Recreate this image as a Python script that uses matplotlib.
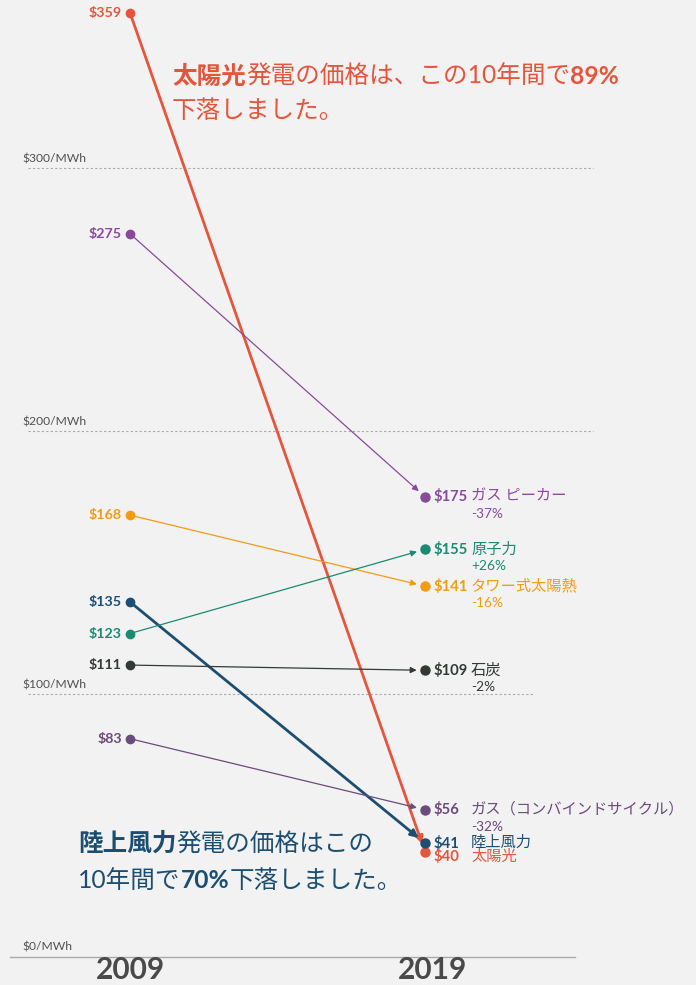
import matplotlib
matplotlib.use("Agg")
import matplotlib.pyplot as plt
from matplotlib import transforms

# ---------------- data ----------------
techs = ['太陽光', 'ガス ピーカー', 'タワー式太陽熱', '陸上風力', '原子力', '石炭', 'ガス（コンバインドサイクル）']
v2009 = [359, 275, 168, 135, 123, 111, 83]
v2019 = [40, 175, 141, 41, 155, 109, 56]
changes = ['', '-37%', '-16%', '', '+26%', '-2%', '-32%']
years = [2009, 2019]
grid_vals = [0, 100, 200, 300]
grid_labels = ['$0/MWh', '$100/MWh', '$200/MWh', '$300/MWh']

# ---------------- style ----------------
colors = ['#e5553b', '#8a4a9b', '#f29b13', '#1c4e72', '#1b8a72', '#333a35', '#6b4b7b']
lws = [2.0, 0.9, 0.9, 2.0, 0.9, 0.9, 0.9]
label_dy = [-5, 0, 0, 6, 0, 0, 0]   # pixel nudges at 2019 side
dot_dy = [0, 0, 0, 6, 0, 0, 0]
BG = '#f2f2f2'
W, H = 696, 985
LAT = ['Lato', 'Noto Sans CJK JP', 'DejaVu Sans']
plt.rcParams['font.family'] = LAT

fig = plt.figure(figsize=(W / 100, H / 100), dpi=100, facecolor=BG)
ax = fig.add_axes([0, 0, 1, 1])
ax.set_facecolor(BG)
ax.axis('off')
px_per_year = 29.5
ax.set_xlim(2009 - 130 / px_per_year, 2009 + (W - 130) / px_per_year)
ppu = 2.63
ax.set_ylim(-28 / ppu, (H - 28) / ppu)

# grid lines
ends = {0: None, 100: 533 / W, 200: 593 / W, 300: 593 / W}
for gv, gl in zip(grid_vals, grid_labels):
    if gv == 0:
        ax.axhline(gv, xmin=10 / W, xmax=575 / W, color='#aaaaaa', lw=1.0, zorder=1)
    else:
        ax.axhline(gv, xmin=28 / W, xmax=ends[gv], color='#aaaaaa', lw=0.8,
                   linestyle=(0, (2, 2)), zorder=1)
    ax.annotate(gl, xy=(2009, gv), xytext=(22 - 130, 4), textcoords='offset pixels',
                fontsize=8.7, color='#505050', ha='left', va='bottom')

# year labels
for yr in years:
    ax.annotate(str(yr), xy=(yr, 0), xycoords='data', xytext=(0 if yr == 2009 else 7, -22),
                textcoords='offset pixels', ha='center', va='baseline',
                fontsize=21.5, fontweight='bold', color='#4a4a4a')

for i, name in enumerate(techs):
    c = colors[i]
    off2 = transforms.offset_copy(ax.transData, fig=fig, x=0, y=dot_dy[i], units='dots')
    # arrow
    ax.annotate('', xy=(2019, v2019[i]), xycoords=off2, xytext=(2009, v2009[i]),
                textcoords='data',
                arrowprops=dict(arrowstyle='-|>', color=c, lw=lws[i], shrinkA=0,
                                shrinkB=6, mutation_scale=11 if lws[i] > 1 else 9),
                zorder=3)
    ax.plot([2009], [v2009[i]], 'o', color=c, ms=6, zorder=4)
    ax.plot([2019], [v2019[i]], 'o', color=c, ms=6.5, zorder=4, transform=off2)
    # 2009 label
    ax.annotate(f'${v2009[i]}', xy=(2009, v2009[i]), xytext=(-8, 0),
                textcoords='offset pixels', ha='right', va='center',
                fontsize=10.3, fontweight='bold', color=c)
    # 2019 labels
    dy = label_dy[i]
    ax.annotate(f'${v2019[i]}', xy=(2019, v2019[i]), xytext=(8, dy),
                textcoords='offset pixels', ha='left', va='center',
                fontsize=10.6, fontweight='bold', color=c)
    ax.annotate(name, xy=(2019, v2019[i]), xytext=(46, dy),
                textcoords='offset pixels', ha='left', va='center',
                fontsize=11, color=c)
    if changes[i]:
        ax.annotate(changes[i], xy=(2019, v2019[i]), xytext=(46, dy - 17),
                    textcoords='offset pixels', ha='left', va='center',
                    fontsize=9.8, color=c)

# ---------------- rich annotations ----------------
renderer = fig.canvas.get_renderer()


def runs_text(x_px, y_px_top, runs, color, size):
    x = x_px
    for s, bold in runs:
        t = fig.text(x / W, 1 - y_px_top / H, s, fontsize=size, color=color,
                     fontweight='bold' if bold else 'normal', va='center', ha='left',
                     family=LAT)
        bb = t.get_window_extent(renderer)
        x += bb.width


runs_text(172, 76, [('太陽光', True), ('発電の価格は、この10年間で', False), ('89%', True)],
          colors[0], 17.7)
runs_text(172, 111, [('下落しました。', False)], colors[0], 17.7)
runs_text(78, 843, [('陸上風力', True), ('発電の価格はこの', False)], colors[3], 17.7)
runs_text(78, 880, [('10年間で', False), ('70%', True), ('下落しました。', False)],
          colors[3], 17.7)

fig.savefig('out.png', dpi=100, facecolor=BG)
